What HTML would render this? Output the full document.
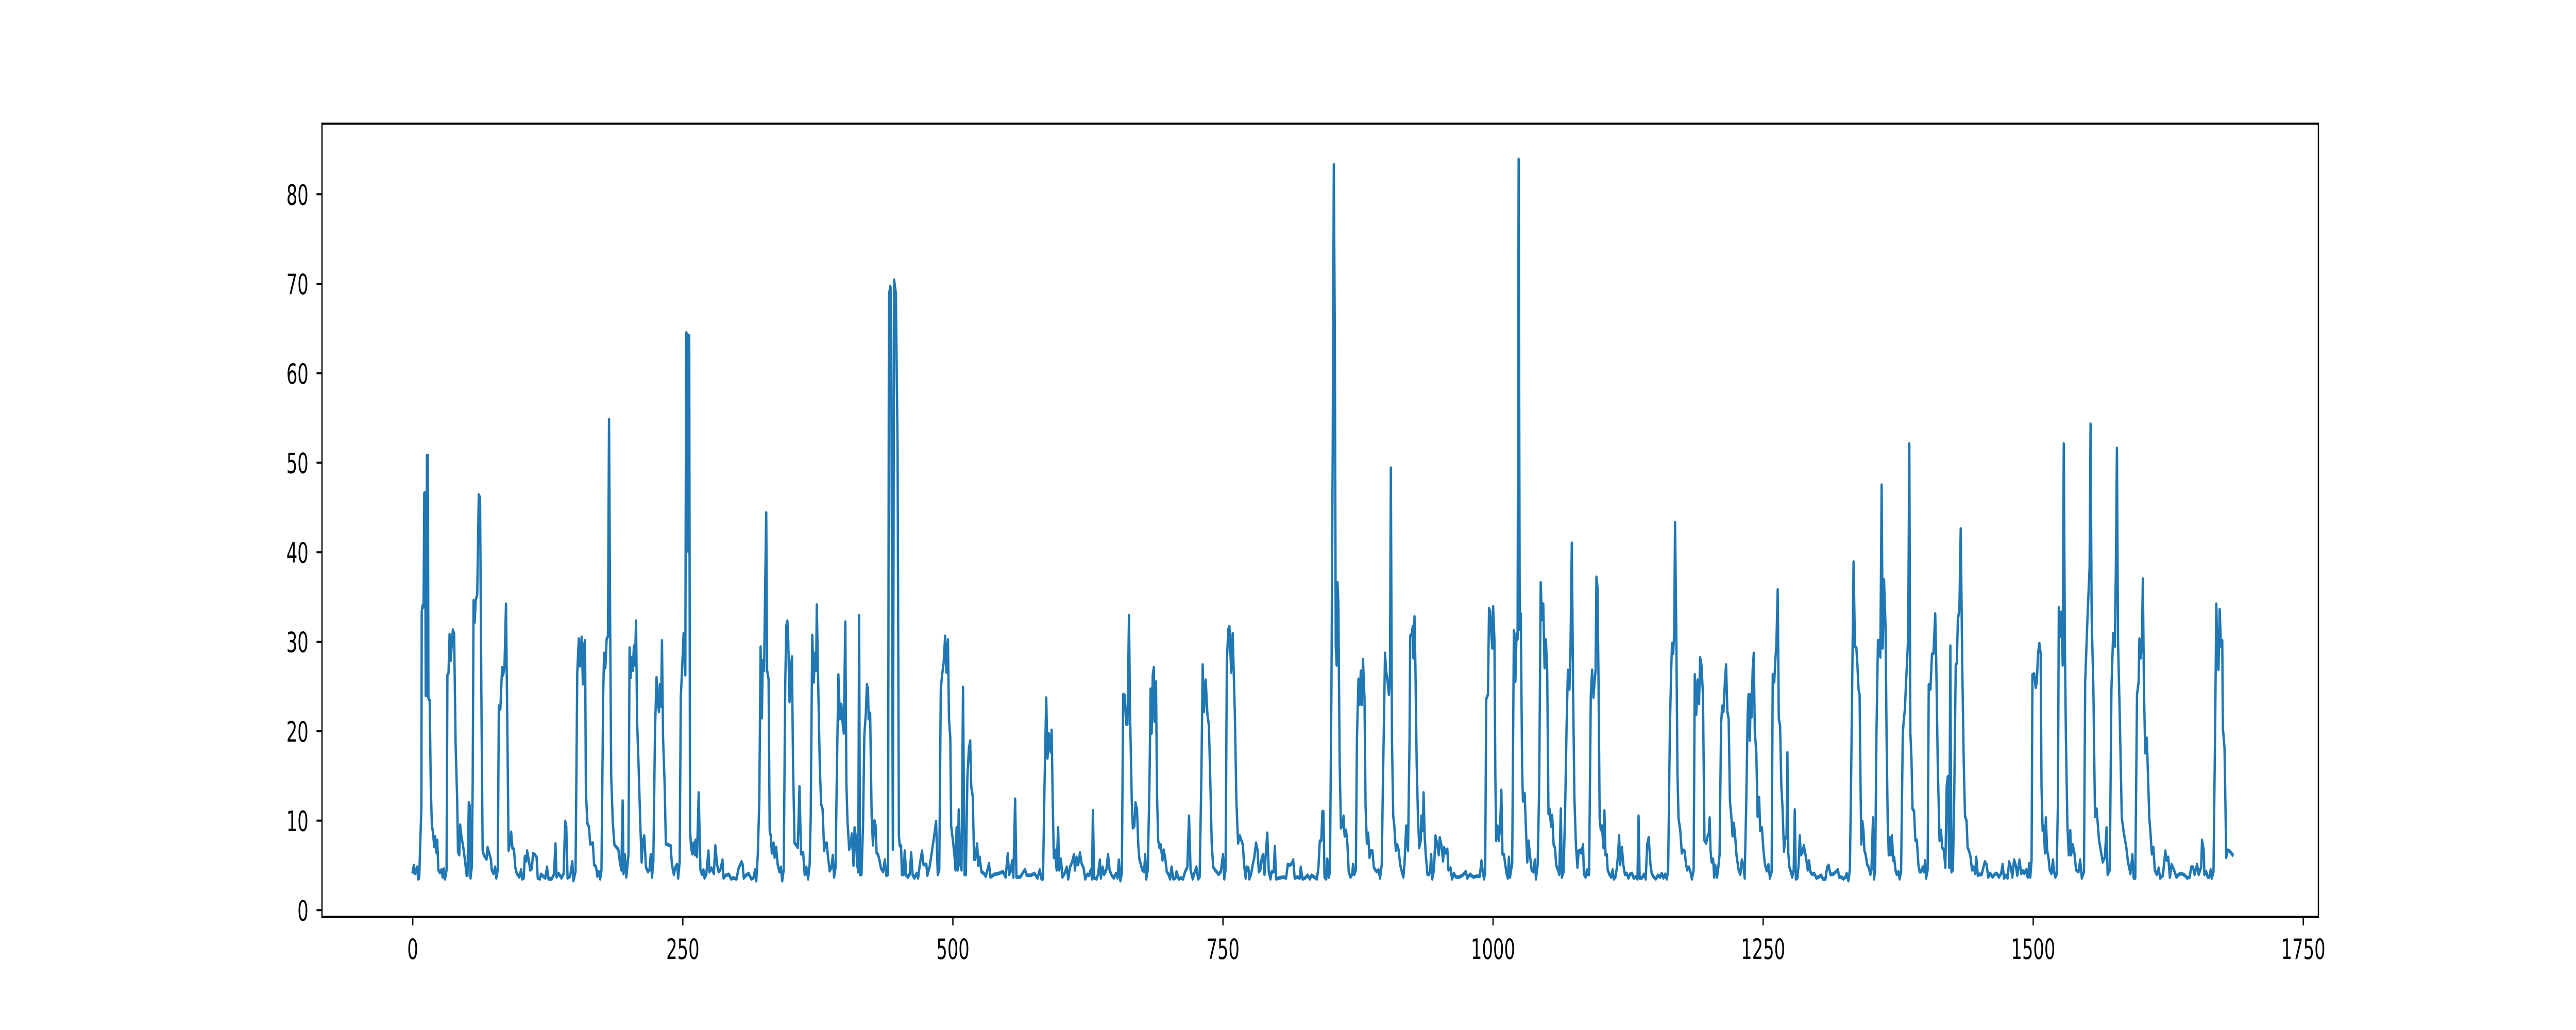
<!DOCTYPE html>
<html><head><meta charset="utf-8"><style>
html,body{margin:0;padding:0;background:#fff;width:100%;height:100%;overflow:hidden;}
svg{display:block;position:absolute;left:0;top:0;width:100vw;height:100vh;}
text{font-family:"DejaVu Sans","Liberation Sans",sans-serif;font-size:54px;fill:#000;}
</style></head><body>
<svg id="chart" viewBox="0 0 8000 2000" preserveAspectRatio="none" xmlns="http://www.w3.org/2000/svg">
<rect x="0" y="0" width="8000" height="2000" fill="#fff"/>
<g id="plot"></g>
</svg>
<script>
const xTicks=[0,250,500,750,1000,1250,1500,1750];
const xTickLabels=["0","250","500","750","1000","1250","1500","1750"];
const yTicks=[0,10,20,30,40,50,60,70,80];
const yTickLabels=["0","10","20","30","40","50","60","70","80"];
const seriesX=[0,1,2,4,5,6,8,8.3,9,10,10.7,11.5,12,12.7,13.1,14,14.5,15.7,16.7,17.7,18.7,19.9,20.7,21.7,22.7,23.7,25.1,26.7,27.7,28.7,29.9,31.3,32.1,33.1,34.1,35.1,37.1,38.3,39.7,41.1,41.9,43.1,43.9,45.1,46.7,48.3,49.9,50.7,51.9,52.7,53.5,54.7,55.5,56.3,57.3,58.3,59.7,61.1,62.3,63.7,64.7,65.7,68.3,69.3,70.7,72.3,73.1,74.7,76.3,77.3,78.7,79.7,81.1,82.7,83.7,84.9,86.3,87.7,88.7,89.7,91.1,92.3,93.7,94.9,96.3,98.7,100.3,101.3,102.7,103.7,105.1,105.9,107.7,108.7,110.3,111.3,113.1,114.7,115.7,117.7,118.7,122.7,124.3,125.7,128.7,130.7,132.1,133.1,135.1,137.7,139.7,141.1,142.1,143.3,145.7,147.7,148.7,150.7,152.3,153.7,154.7,156.3,157.5,158.3,159.5,160.3,161.7,163.1,164.3,166.7,167.9,169.7,170.9,172.1,173.5,174.7,176.3,177.1,178.3,179.5,180.7,181.7,182.7,183.7,185.1,186.7,188.7,190.3,191.7,193.1,194.3,195.1,196.3,197.7,199.7,200.7,201.7,202.7,203.7,204.7,205.7,206.7,207.7,209.1,210.7,211.9,213.1,214.3,215.9,217.7,219.1,220.3,221.5,222.7,224.3,225.7,226.7,227.9,228.7,229.9,230.7,231.7,233.1,234.3,236.7,238.7,239.9,241.7,243.1,244.7,245.7,247.1,248.1,249.3,250.7,252.3,253.1,254.3,255.1,255.9,256.7,257.7,258.7,259.9,261.1,261.7,263.1,264.7,266.3,267.7,269.1,270.1,271.7,273.7,274.7,276.7,278.7,280.1,281.7,283.1,284.7,286.7,287.7,289.7,292.7,294.7,296.7,299.7,301.7,304.3,
305.4,306.4,308.4,310.8,313.4,315.4,316.8,318,319.4,320.8,322,323.2,324,325.2,326.4,327.2,328,329.4,330.4,331.4,332.4,334,335,336.4,337.8,339.4,340.8,342,343.4,344.8,345.8,346.8,347.6,348.8,350,351,352,353.4,354.8,356.4,358,359.4,361.4,362.8,364.4,366,367.4,368.4,369.8,371.2,372.4,373.4,374,375.4,376.8,378,379.4,380.8,382,383.2,384.4,386,387.6,388.8,390,391.4,392.4,394,395.4,396.8,398,399,400.4,401.4,402.4,404,405.4,406.4,408,409,410,411.4,412.4,413.2,414,415.4,416.8,418,419.4,420.4,421.4,422,423.4,424.8,426,427.4,428.4,429.4,430.8,432,433.4,435.4,437,438.4,440,440.8,442,442.8,444.4,445.6,447.2,448.8,450,450.8,452,452.8,454.4,455.4,456.8,458.4,460,461.4,462.8,464.4,466.4,467.8,469.4,471.4,472.8,475.4,476.4,478.4,480.4,482.4,484.4,486,487.4,488.8,490,491.4,492.8,494,495.4,496.4,497.6,498.4,500,501.4,502.4,503.4,504.4,505.4,506.8,508,509.4,510.8,512,513.4,514.8,516,517,518.4,519.6,520.8,522.4,523.6,524.8,526.4,528.8,530.4,532,533.4,534.8,538.4,542.4,546.4,548.8,550.8,552,553.4,554.8,556,557.6,558.8,562.4,565.4,566.8,568.4,572.4,575.4,578.4,580.4,582,583.4,584.8,586.4,587.6,588.8,590.4,591.4,592.4,593.4,594.4,596,597.4,598.4,600,601.4,603.4,605.4,606.8,608.4,610.4,612,
613,614.4,616,617.6,619.2,621,622.4,624.4,626,627.6,628.8,629.6,630.8,633,634.4,636,637,638.6,640,642,643.6,645,647,649,651,652.4,653.6,655,656.4,657.6,659,660.4,661.6,663,664,665.6,666.6,668,669,670.4,671.6,672.6,674,675.2,677,678,679,680.4,682,683,684,685,686,686.6,688,689,690,691.2,692.4,694,695.2,696.4,698,699.6,701,702.4,704,706,707,709,711,713,715,717,718.6,720,722,724,725.4,727,728.4,730,731.2,732.4,734,735.6,737,738.4,739.6,741,742.6,744,746,748,750,751.2,752.4,753.6,755,756,757.6,759,761,762.4,764,765.6,767,768.4,769.6,771,772,773.6,774.4,776,777.6,779,780.6,782,783.2,784.6,786,787.2,788.4,789.6,791,792.4,794,795,797,798,799.2,802,806,808.4,810,811.6,813.6,815,816.4,819,821,822,823.6,826,828.4,830.4,832,834.4,837,838.4,839.6,841,842,843,844,845.6,846.6,848,849,850.4,851.6,852.6,853.6,854.4,855.2,856,856.8,858,859.2,860.4,861.6,862.6,864,865.2,866.4,868,869.6,870.4,871.6,873,874,875.4,876.4,877.6,878.6,879.6,881,882,883.2,884.4,885.6,886.8,888.4,889.6,891,892.4,894,895.4,897,898,899,900,901,902.4,903.6,904.6,905.4,906.4,907.6,908.6,910,911.4,912.6,914,915.6,917,918,919.6,
921.3,922.7,923.3,924.7,925.7,926.3,927.3,928.1,929.3,930.5,931.7,933.1,933.7,934.9,935.7,936.7,937.7,939.3,940.7,941.7,942.7,943.7,945.3,946.7,948.1,949.7,950.7,952.1,953.7,954.7,956.1,957.7,958.7,960.7,962.1,963.7,965.7,968.7,971.7,974.7,976.1,978.7,981.7,984.7,987.7,989.3,990.7,991.7,992.7,993.7,995.3,996.3,997.3,998.5,999.3,1000.1,1001.3,1002.1,1002.9,1004.1,1005.3,1006.5,1007.7,1008.7,1010.1,1011.3,1012.7,1013.7,1014.7,1015.7,1016.7,1017.7,1019.3,1020.7,1021.7,1022.7,1023.7,1024.7,1025.7,1026.9,1027.7,1029.3,1030.5,1031.7,1032.9,1034.1,1035.7,1037.3,1038.7,1039.7,1041.3,1042.7,1044.1,1045.3,1046.5,1047.7,1048.9,1050.1,1051.3,1052.3,1053.7,1054.7,1056.1,1057.3,1058.5,1060.1,1061.3,1062.7,1063.7,1065.3,1066.7,1068.1,1069.3,1070.7,1071.7,1072.9,1074.1,1075.3,1076.7,1078.1,1079.3,1080.7,1081.7,1083.3,1084.1,1085.7,1086.9,1087.7,1088.9,1090.5,1091.7,1092.9,1094.1,1094.9,1095.7,1096.7,1097.7,1098.7,1099.7,1100.9,1102.1,1103.1,1104.1,1105.3,1106.1,1107.7,1109.3,1110.7,1111.7,1113.3,1114.7,1115.7,1116.7,1117.7,1119.3,1120.7,1122.1,1123.7,1125.3,1126.7,1128.7,1130.1,1131.7,1132.7,1133.7,1134.7,1135.7,1137.7,1139.7,1141.3,1142.7,1144.1,1145.7,1146.9,1148.7,1150.7,1152.7,1154.7,1156.1,1157.7,1159.3,1160.9,1162.1,1163.7,1164.9,1165.7,1166.7,1167.7,1168.5,1169.7,1170.7,1171.7,1173.3,1174.7,1175.7,1177.3,1178.7,1179.7,1181.3,1182.7,1184.1,1185.7,1186.7,1188.1,1189.3,1190.7,1191.7,1192.9,1194.3,1195.7,1197.3,1198.7,1199.7,1200.5,1201.3,1202.3,1203.7,1204.7,1205.7,1207.3,1208.3,1209.7,1211.1,1212.1,1213.3,1214.7,1215.7,1216.9,1218.1,1219.3,1220.7,1221.7,1222.9,1224.1,1225.3,1227.3,
1228.9,1230.3,1231.7,1232.9,1234.3,1235.7,1236.5,1237.7,1238.5,1239.3,1240.3,1241.3,1242.3,1243.7,1244.9,1246.3,1247.3,1248.9,1250.3,1251.7,1253.3,1254.9,1256.3,1257.9,1258.9,1260.3,1261.3,1262.3,1263.5,1264.5,1265.7,1266.9,1267.9,1269.3,1270.5,1271.7,1272.5,1273.3,1274.3,1275.7,1276.9,1278.3,1279.3,1280.3,1281.7,1282.9,1283.9,1284.9,1286.3,1287.7,1289.7,1291.3,1292.5,1293.7,1295.3,1297.3,1299.3,1301.3,1303.7,1305.3,1307.7,1309.3,1310.7,1312.3,1314.3,1315.7,1317.3,1319.3,1320.3,1322.3,1324.3,1326.3,1327.3,1328.9,1330.3,1331.3,1332.3,1333.7,1335,1336.3,1337.3,1338.3,1339.3,1340.3,1340.9,1341.9,1342.9,1343.7,1344.9,1346.3,1347.7,1349.3,1350.3,1351.7,1352.7,1353.7,1354.9,1356.3,1357.3,1358.5,1359.7,1360.7,1361.9,1363.3,1364.3,1365.3,1366.3,1367.3,1368.3,1369.3,1370.3,1371.3,1372.5,1373.7,1375.3,1376.3,1377.7,1379.3,1380.3,1381.3,1382.3,1383.3,1384.3,1385.3,1386.3,1387.3,1388.3,1389.7,1390.9,1392.3,1393.7,1394.9,1396.3,1397.7,1398.9,1399.9,1400.9,1402.3,1403.3,1404.9,1406.3,1407.7,1409.3,1410.3,1411.7,1413.3,1414.7,1415.7,1417.3,1418.7,1419.9,1420.9,1422.3,1423.3,1424.3,1425.7,1426.9,1428.3,1429.3,1430.3,1431.7,1432.9,1434.3,1435.7,1436.9,1438.3,1439.3,1440.7,1442.1,1443.3,1444.9,1446.3,1447.3,1448.7,1450.3,1452.3,1453.7,1455.3,1456.9,1458.3,1460.3,1462.3,1464.3,1466.3,1468.3,1470.3,1471.7,1472.9,1474.9,1476.3,1477.7,1479.3,1480.7,1482.3,1483.7,1485.3,1487.3,1488.9,1490.3,1491.7,1493.3,1494.9,1496.3,1497.3,1498.5,1499.3,1500.9,1502.3,1503.3,1504.5,1505.7,1506.9,1507.7,1508.7,1509.7,1510.9,1511.7,1512.9,1514.1,1515.3,1516.9,1518.3,1519.3,1520.5,1521.7,1522.9,1523.7,1524.9,1526.1,1527.3,1528.3,1529.3,1530.3,1531.7,1532.9,1534.3,
1535.1,1536.6,1538.1,1539.7,1542,1543.5,1545,1547,1548.1,1550.3,1552.2,1553.1,1554.1,1555.7,1557.2,1558.7,1561,1562.5,1564.4,1566.3,1567.9,1568.9,1570.9,1572.4,1574,1575.5,1576.5,1577.5,1578.5,1580.1,1582,1583.9,1586.2,1587.7,1590,1591.8,1593,1594.5,1596.1,1597.6,1598.3,1599.4,1600.6,1601.5,1602.5,1603.7,1605.2,1607.5,1608.6,1609.8,1611.3,1612.5,1614.3,1616.2,1617.4,1620.1,1622.3,1623.5,1625,1626.5,1628.1,1630.3,1632.6,1634.9,1637.2,1640.3,1642.5,1644.8,1646.3,1647.9,1649.4,1651.7,1653.2,1655.5,1656.3,1657.8,1658.5,1660.1,1661.6,1663.1,1664.3,1665.4,1666.9,1668.4,1669.5,1670.7,1671.5,1672.6,1673.8,1675,1675.6,1677.1,1678.7,1679.9,1681.7,1684.5];
const seriesY=[4.3,5.0,4.1,4.8,3.5,3.6,11.6,33.3,34,33.9,46.6,46.6,24,24,50.8,50.8,23.7,23.4,13.8,9.5,8.7,7.1,8.2,6.5,7.8,4.5,4.2,4.5,3.7,4.6,3.5,4.5,26.3,26.5,30.8,27.9,31.3,30.9,18.4,12.5,6.5,6.2,9.5,8.2,7.1,5.6,3.9,3.9,12.0,11.7,3.6,4.9,14.3,34.6,32.2,34.6,35.3,46.4,46.1,21.4,6.7,6.2,5.7,7.0,6.4,5.7,4.5,4.1,4.8,3.6,4.5,22.8,22.5,27.1,26.3,27.1,34.2,19.2,6.7,7.3,8.7,6.9,6.8,4.8,4.1,3.7,4.5,3.5,3.6,6.0,5.5,6.6,5.4,4.5,4.7,6.3,6.2,5.9,3.6,3.5,4.0,3.6,4.8,3.5,3.5,4.0,7.4,3.7,4.1,3.6,4.1,9.9,9.4,3.6,3.8,5.4,3.3,4.3,26.6,30.3,27.3,30.5,25.3,29.5,30.1,13.2,9.7,9.3,7.4,7.5,5.1,4.8,3.8,4.3,3.5,4.5,24.1,28.7,27.1,30.3,30.6,54.8,32.8,15.1,10.0,7.3,7.0,6.8,5.4,4.5,12.2,4.1,6.2,3.7,6.2,29.3,26.0,28.2,26.8,29.5,27.4,32.3,21.1,16.0,9.4,5.4,7.8,8.3,4.8,4.3,4.5,6.2,3.7,5.4,20.3,26.0,23.3,22.2,25.2,22.8,30.1,19.2,14.3,7.4,7.3,7.2,5.1,4.0,4.8,5.1,3.6,5.4,23.8,26.8,30.9,26.3,64.5,64.3,40.1,64.2,8.9,7.0,6.3,7.5,6.2,7.8,6.0,13.1,4.5,4.0,4.5,3.6,4.0,6.6,4.3,4.7,4.1,7.2,5.1,4.3,4.5,5.6,3.6,3.9,4.0,3.5,3.6,3.5,4.7,5.4,
5.1,3.6,3.9,4.1,3.5,3.6,4.5,3.3,6.2,12.2,29.4,21.5,27.9,26.8,37.7,44.4,26.8,25.8,8.9,8.3,6.4,7.5,5.9,7.0,5.1,4.3,4.8,3.3,4.5,25.2,31.8,32.3,30.1,23.3,26.8,28.3,16.5,7.5,7.3,7.0,13.8,6.3,6.4,4.0,4.8,3.5,5.1,10.5,30.7,25.5,28.7,26.8,34.1,24.7,16.0,11.9,11.3,6.7,7.4,7.5,5.9,4.4,4.8,6.1,3.7,4.8,13.8,26.3,21.4,23.0,20.8,19.8,32.2,14.3,10.0,6.8,7.3,8.5,5.0,9.2,8.3,5.1,4.3,32.9,4.0,4.0,9.4,19.5,22.0,25.2,24.7,21.4,22.0,10.5,7.3,10.0,9.5,6.4,6.2,5.6,4.7,4.3,5.6,3.9,4.0,68.7,69.7,69.3,6.8,70.4,68.9,51.8,8.3,7.2,7.2,4.0,4.0,6.6,3.9,3.7,4.0,6.4,3.9,3.6,4.1,3.6,5.1,6.6,5.1,5.1,3.9,4.8,6.4,8.1,9.9,4.0,4.5,24.7,26.3,27.6,30.6,26.6,30.2,21.4,19.2,9.4,7.8,6.2,4.5,9.2,4.5,11.2,5.1,4.5,24.9,4.0,4.0,14.9,18.1,18.9,13.8,12.7,5.7,5.7,7.4,5.0,5.9,4.3,4.1,3.8,4.5,5.2,3.7,4.0,4.1,4.3,3.7,6.3,4.0,4.3,5.5,3.7,12.4,3.7,3.7,4.3,4.5,3.9,3.9,4.1,3.6,4.5,3.5,3.5,13.8,23.7,17.0,19.7,17.7,20.1,12.2,5.9,6.7,4.5,9.2,4.5,5.7,3.7,4.1,4.8,3.5,4.8,5.4,6.2,
4.5,5.9,5.1,6.4,5.2,4.7,3.5,4.0,3.9,4.5,3.5,11.1,3.6,3.5,4.0,5.6,3.6,4.8,4.0,4.5,6.2,4.5,3.9,3.6,4.1,3.6,5.6,3.3,4.1,24.1,24.0,20.8,20.8,32.9,21.9,12.2,9.2,9.4,12.0,11.3,7.3,5.7,5.1,4.5,4.3,6.2,3.5,4.5,14.3,24.7,19.8,26.3,27.1,21.1,25.5,12.7,7.8,7.0,7.3,5.6,6.7,5.9,4.3,4.0,3.5,4.8,3.5,3.6,4.3,3.5,3.6,3.5,4.3,4.8,10.5,4.5,3.5,4.3,4.8,3.5,3.7,14.9,27.4,22.2,25.7,21.9,20.6,13.8,7.3,4.8,4.5,4.3,4.0,4.3,6.2,3.5,4.5,27.9,31.4,31.7,26.6,30.9,21.9,12.2,7.5,8.3,7.8,7.3,5.0,3.6,4.8,4.7,3.5,4.0,5.1,5.9,7.5,6.7,4.3,4.5,5.9,6.2,4.0,6.2,8.6,4.3,3.5,4.3,4.3,7.1,3.5,3.6,3.7,3.6,5.1,5.0,5.2,5.6,3.6,3.7,3.6,4.8,3.5,3.6,3.9,3.5,3.9,3.7,3.5,4.8,7.7,7.8,11.0,11.0,3.7,3.5,5.7,3.7,4.3,24.7,51.8,83.3,62.7,29.5,27.4,36.6,34.4,16.5,9.2,9.4,10.5,8.3,8.9,7.4,4.3,3.7,4.0,5.1,4.0,4.5,19.2,25.8,23.0,26.7,23.0,28.0,23.6,11.6,7.5,8.6,5.9,6.6,6.6,4.8,4.5,4.3,4.5,3.6,5.1,13.8,20.8,28.7,26.8,25.5,24.1,26.3,49.4,19.2,10.5,9.4,6.7,7.3,6.7,5.1,4.3,3.7,5.1,9.4,
6.7,19.2,30.6,30.9,31.7,28.2,32.8,27.4,16.5,10.5,7.0,7.8,10.5,8.9,13.1,8.3,6.2,4.0,4.0,4.3,6.2,3.5,4.5,8.3,7.5,6.2,8.1,7.3,5.5,7.0,6.4,6.8,4.5,4.7,3.5,4.1,3.7,3.7,3.9,4.3,3.6,4.0,3.7,3.8,3.8,5.5,4.1,3.5,4.3,23.6,24.1,33.7,33.4,30.6,29.3,33.9,30.1,15.4,7.8,9.4,7.8,9.2,13.4,6.3,6.2,5.1,4.0,3.6,5.9,3.7,4.5,5.1,31.2,25.6,30.9,30.3,83.9,31.4,33.1,16.0,12.2,13.0,8.9,5.4,7.7,6.2,4.5,4.3,5.6,3.5,5.1,13.8,36.6,32.5,34.2,27.1,30.2,26.8,10.8,11.3,9.4,10.6,7.3,7.0,5.0,4.5,4.0,11.3,3.7,4.3,11.1,20.8,26.8,24.7,29.0,41.0,24.7,12.7,7.3,4.8,6.6,6.7,6.4,7.3,4.0,3.7,4.5,4.0,4.0,24.1,26.8,23.8,25.7,26.8,37.2,36.1,24.7,10.3,9.0,9.4,7.0,11.1,6.2,6.2,4.5,4.0,3.7,4.5,3.5,3.7,4.8,6.2,8.3,5.1,7.0,5.0,4.0,4.1,3.6,4.0,4.1,3.6,3.7,3.7,3.5,10.5,3.6,3.6,4.0,3.5,7.4,8.1,5.1,4.1,3.7,3.5,3.9,3.7,4.1,3.6,4.0,3.5,4.5,20.3,26.8,29.8,28.7,30.9,43.3,30.1,15.4,10.3,8.9,6.4,6.7,6.6,5.1,4.5,4.8,4.3,3.5,4.5,26.3,21.9,25.7,23.1,28.2,27.4,24.1,7.8,7.5,8.3,8.6,10.3,6.7,5.4,5.7,3.7,5.0,3.7,4.5,6.2,20.8,22.8,22.2,25.7,27.4,22.2,21.4,12.2,10.3,8.3,9.7,8.3,6.2,4.5,
4.0,5.6,5.1,3.6,11.6,21.9,24.1,19.0,24.1,21.6,26.8,28.7,20.0,17.6,10.5,12.6,8.9,9.2,6.7,5.1,4.4,5.1,3.6,4.3,26.3,25.5,27.9,29.8,35.8,21.4,20.6,13.8,11.6,6.6,8.1,8.1,17.6,6.4,4.8,4.3,3.7,4.5,11.2,3.5,3.6,5.1,8.3,6.2,6.4,7.2,5.9,4.5,5.5,4.3,4.0,4.1,3.6,3.7,3.9,3.5,3.5,4.8,5.0,4.0,4.0,4.1,4.3,4.5,3.7,3.7,3.5,3.7,4.1,3.3,4.5,13.2,23.8,38.9,29.5,29.3,27.4,24.7,24.1,12.7,7.4,9.9,8.9,6.7,6.2,5.1,4.8,4.0,4.5,10.3,3.5,4.5,19.8,30.1,30.1,28.3,47.5,29.3,36.9,31.7,19.2,10.0,6.2,8.1,6.2,8.3,5.6,5.9,4.5,4.0,4.3,3.5,4.3,19.8,21.4,22.5,25.5,27.9,30.6,52.1,19.8,17.0,11.3,11.1,7.8,7.8,5.1,4.3,4.3,4.8,4.3,5.5,3.6,4.5,25.2,24.7,28.6,28.7,33.1,27.4,16.0,7.8,8.9,7.0,6.7,4.8,13.8,14.9,4.8,29.5,4.3,4.5,12.7,27.4,27.6,32.5,33.6,42.6,27.4,16.5,10.5,10.0,7.0,6.6,5.9,4.5,4.8,4.1,5.9,3.9,4.0,4.0,4.7,5.4,5.1,3.7,4.1,3.7,4.0,4.1,3.7,4.1,5.1,3.6,3.9,3.6,5.4,4.8,3.7,5.6,5.1,3.9,5.6,4.1,4.4,4.1,4.5,3.7,5.2,3.7,5.6,26.3,26.4,24.9,25.5,28.7,29.8,28.7,13.8,8.9,9.4,6.4,10.3,6.7,5.9,4.5,4.1,5.6,4.3,3.7,4.0,12.2,33.8,30.6,33.3,27.4,52.1,30.1,19.2,9.4,6.2,8.9,
6.2,7.3,6.4,4.5,4.3,5.6,3.6,4.3,25.5,32.8,38.3,54.3,32.8,24.7,10.5,11.3,7.8,6.7,5.4,5.9,9.2,4.0,4.5,24.7,30.9,29.5,37.7,51.6,30.1,21.9,10.3,8.6,7.0,5.4,4.1,6.2,3.6,3.6,24.1,25.5,30.3,28.2,29.5,37.0,24.7,17.6,19.2,10.3,8.6,6.3,7.0,4.5,4.0,4.7,3.6,3.9,6.6,5.6,5.9,3.7,5.1,4.5,3.7,4.0,4.1,3.9,3.6,3.7,4.8,4.8,4.0,5.1,4.0,4.8,7.8,6.7,4.0,4.3,3.7,3.7,4.5,3.6,4.3,20.3,34.2,27.4,26.9,33.6,29.5,30.1,20.3,18.1,5.9,6.7,6.6,6.2];

const L=1000,R=7200,T=240,B=1780;
const xMin=-84,xMax=1764,yMin=-0.73,yMax=87.9;
function sx(v){return L+(v-xMin)/(xMax-xMin)*(R-L);}
function sy(v){return B-(v-yMin)/(yMax-yMin)*(B-T);}
const NS="http://www.w3.org/2000/svg";
const g=document.getElementById('plot');
function mk(tag,attrs){const e=document.createElementNS(NS,tag);for(const k in attrs)e.setAttribute(k,attrs[k]);return e;}

let d="";
for(let i=0;i<seriesX.length&&i<seriesY.length;i++){d+=(i?"L":"M")+sx(seriesX[i]).toFixed(1)+" "+sy(seriesY[i]).toFixed(1);}
const line=mk('path',{d:d,fill:'none',stroke:'#1f77b4','stroke-width':7.3,'stroke-linejoin':'round','stroke-linecap':'square'});


g.appendChild(line);

const frame=mk('rect',{x:L,y:T,width:R-L,height:B-T,fill:'none',stroke:'#000','stroke-width':4});


g.appendChild(frame);

xTicks.forEach((v,i)=>{
  const x=sx(v);
  const t=mk('line',{x1:x,x2:x,y1:B,y2:B+17,stroke:'#000','stroke-width':4});
  
  
  g.appendChild(t);
  const lb=mk('text',{x:x,y:B+82,'text-anchor':'middle'});
  lb.textContent=xTickLabels[i];
  
  
  g.appendChild(lb);
});
yTicks.forEach((v,i)=>{
  const y=sy(v);
  const t=mk('line',{x1:L-17,x2:L,y1:y,y2:y,stroke:'#000','stroke-width':4});
  
  
  g.appendChild(t);
  const lb=mk('text',{x:L-42,y:y+20,'text-anchor':'end'});
  lb.textContent=yTickLabels[i];
  
  
  g.appendChild(lb);
});
</script>
</body></html>
